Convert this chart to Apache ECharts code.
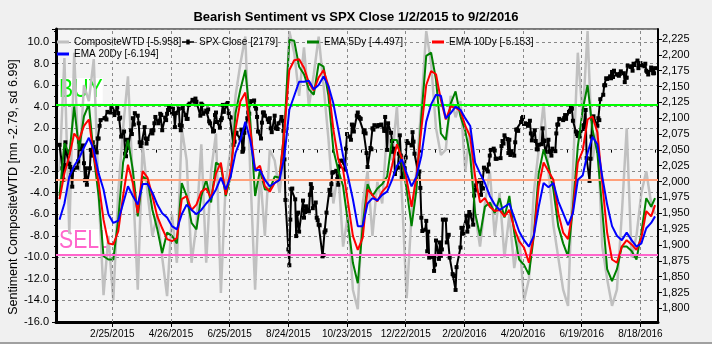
<!DOCTYPE html>
<html><head><meta charset="utf-8">
<script src="https://cdn.jsdelivr.net/npm/echarts@6/dist/echarts.min.js"></script>
<style>html,body{margin:0;padding:0;background:#f0f0f0}#c{width:712px;height:344px}</style>
</head><body><div id="c"></div>
<script>
// ---------- DATA ----------
// SPX daily closes
const spxDates = [
'2015-01-02','2015-01-05','2015-01-06','2015-01-07','2015-01-08','2015-01-09','2015-01-12','2015-01-13','2015-01-14','2015-01-15','2015-01-16','2015-01-20','2015-01-21','2015-01-22','2015-01-23','2015-01-26','2015-01-27','2015-01-28','2015-01-29','2015-01-30',
'2015-02-02','2015-02-03','2015-02-04','2015-02-05','2015-02-06','2015-02-09','2015-02-10','2015-02-11','2015-02-12','2015-02-13','2015-02-17','2015-02-18','2015-02-19','2015-02-20','2015-02-23','2015-02-24','2015-02-25','2015-02-26','2015-02-27',
'2015-03-02','2015-03-03','2015-03-04','2015-03-05','2015-03-06','2015-03-09','2015-03-10','2015-03-11','2015-03-12','2015-03-13','2015-03-16','2015-03-17','2015-03-18','2015-03-19','2015-03-20','2015-03-23','2015-03-24','2015-03-25','2015-03-26','2015-03-27','2015-03-30','2015-03-31',
'2015-04-01','2015-04-02','2015-04-06','2015-04-07','2015-04-08','2015-04-09','2015-04-10','2015-04-13','2015-04-14','2015-04-15','2015-04-16','2015-04-17','2015-04-20','2015-04-21','2015-04-22','2015-04-23','2015-04-24','2015-04-27','2015-04-28','2015-04-29','2015-04-30',
'2015-05-01','2015-05-04','2015-05-05','2015-05-06','2015-05-07','2015-05-08','2015-05-11','2015-05-12','2015-05-13','2015-05-14','2015-05-15','2015-05-18','2015-05-19','2015-05-20','2015-05-21','2015-05-22','2015-05-26','2015-05-27','2015-05-28','2015-05-29',
'2015-06-01','2015-06-02','2015-06-03','2015-06-04','2015-06-05','2015-06-08','2015-06-09','2015-06-10','2015-06-11','2015-06-12','2015-06-15','2015-06-16','2015-06-17','2015-06-18','2015-06-19','2015-06-22','2015-06-23','2015-06-24','2015-06-25','2015-06-26','2015-06-29','2015-06-30',
'2015-07-01','2015-07-02','2015-07-06','2015-07-07','2015-07-08','2015-07-09','2015-07-10','2015-07-13','2015-07-14','2015-07-15','2015-07-16','2015-07-17','2015-07-20','2015-07-21','2015-07-22','2015-07-23','2015-07-24','2015-07-27','2015-07-28','2015-07-29','2015-07-30','2015-07-31',
'2015-08-03','2015-08-04','2015-08-05','2015-08-06','2015-08-07','2015-08-10','2015-08-11','2015-08-12','2015-08-13','2015-08-14','2015-08-17','2015-08-18','2015-08-19','2015-08-20','2015-08-21','2015-08-24','2015-08-25','2015-08-26','2015-08-27','2015-08-28','2015-08-31',
'2015-09-01','2015-09-02','2015-09-03','2015-09-04','2015-09-08','2015-09-09','2015-09-10','2015-09-11','2015-09-14','2015-09-15','2015-09-16','2015-09-17','2015-09-18','2015-09-21','2015-09-22','2015-09-23','2015-09-24','2015-09-25','2015-09-28','2015-09-29','2015-09-30',
'2015-10-01','2015-10-02','2015-10-05','2015-10-06','2015-10-07','2015-10-08','2015-10-09','2015-10-12','2015-10-13','2015-10-14','2015-10-15','2015-10-16','2015-10-19','2015-10-20','2015-10-21','2015-10-22','2015-10-23','2015-10-26','2015-10-27','2015-10-28','2015-10-29','2015-10-30',
'2015-11-02','2015-11-03','2015-11-04','2015-11-05','2015-11-06','2015-11-09','2015-11-10','2015-11-11','2015-11-12','2015-11-13','2015-11-16','2015-11-17','2015-11-18','2015-11-19','2015-11-20','2015-11-23','2015-11-24','2015-11-25','2015-11-27','2015-11-30',
'2015-12-01','2015-12-02','2015-12-03','2015-12-04','2015-12-07','2015-12-08','2015-12-09','2015-12-10','2015-12-11','2015-12-14','2015-12-15','2015-12-16','2015-12-17','2015-12-18','2015-12-21','2015-12-22','2015-12-23','2015-12-24','2015-12-28','2015-12-29','2015-12-30','2015-12-31',
'2016-01-04','2016-01-05','2016-01-06','2016-01-07','2016-01-08','2016-01-11','2016-01-12','2016-01-13','2016-01-14','2016-01-15','2016-01-19','2016-01-20','2016-01-21','2016-01-22','2016-01-25','2016-01-26','2016-01-27','2016-01-28','2016-01-29',
'2016-02-01','2016-02-02','2016-02-03','2016-02-04','2016-02-05','2016-02-08','2016-02-09','2016-02-10','2016-02-11','2016-02-12','2016-02-16','2016-02-17','2016-02-18','2016-02-19','2016-02-22','2016-02-23','2016-02-24','2016-02-25','2016-02-26','2016-02-29',
'2016-03-01','2016-03-02','2016-03-03','2016-03-04','2016-03-07','2016-03-08','2016-03-09','2016-03-10','2016-03-11','2016-03-14','2016-03-15','2016-03-16','2016-03-17','2016-03-18','2016-03-21','2016-03-22','2016-03-23','2016-03-24','2016-03-28','2016-03-29','2016-03-30','2016-03-31',
'2016-04-01','2016-04-04','2016-04-05','2016-04-06','2016-04-07','2016-04-08','2016-04-11','2016-04-12','2016-04-13','2016-04-14','2016-04-15','2016-04-18','2016-04-19','2016-04-20','2016-04-21','2016-04-22','2016-04-25','2016-04-26','2016-04-27','2016-04-28','2016-04-29',
'2016-05-02','2016-05-03','2016-05-04','2016-05-05','2016-05-06','2016-05-09','2016-05-10','2016-05-11','2016-05-12','2016-05-13','2016-05-16','2016-05-17','2016-05-18','2016-05-19','2016-05-20','2016-05-23','2016-05-24','2016-05-25','2016-05-26','2016-05-27','2016-05-31',
'2016-06-01','2016-06-02','2016-06-03','2016-06-06','2016-06-07','2016-06-08','2016-06-09','2016-06-10','2016-06-13','2016-06-14','2016-06-15','2016-06-16','2016-06-17','2016-06-20','2016-06-21','2016-06-22','2016-06-23','2016-06-24','2016-06-27','2016-06-28','2016-06-29','2016-06-30',
'2016-07-01','2016-07-05','2016-07-06','2016-07-07','2016-07-08','2016-07-11','2016-07-12','2016-07-13','2016-07-14','2016-07-15','2016-07-18','2016-07-19','2016-07-20','2016-07-21','2016-07-22','2016-07-25','2016-07-26','2016-07-27','2016-07-28','2016-07-29',
'2016-08-01','2016-08-02','2016-08-03','2016-08-04','2016-08-05','2016-08-08','2016-08-09','2016-08-10','2016-08-11','2016-08-12','2016-08-15','2016-08-16','2016-08-17','2016-08-18','2016-08-19','2016-08-22','2016-08-23','2016-08-24','2016-08-25','2016-08-26','2016-08-29','2016-08-30','2016-08-31',
'2016-09-01','2016-09-02'
];
const spxClose = [
2058,2021,2003,2026,2062,2045,2028,2023,2011,1992,2019,2022,2032,2063,2051,2057,2029,2002,2021,1995,
2021,2050,2041,2062,2055,2046,2068,2068,2088,2097,2100,2100,2098,2110,2109,2116,2114,2111,2105,
2117,2108,2099,2101,2071,2079,2044,2040,2066,2053,2081,2075,2100,2090,2108,2104,2092,2062,2056,2061,2086,2068,
2060,2067,2081,2076,2081,2092,2102,2092,2096,2107,2105,2081,2101,2097,2107,2113,2117,2109,2115,2107,2086,
2108,2115,2089,2081,2088,2116,2105,2099,2099,2121,2123,2129,2128,2126,2131,2126,2104,2123,2121,2107,
2112,2110,2114,2095,2092,2079,2080,2105,2109,2094,2085,2097,2100,2121,2110,2122,2124,2108,2102,2101,2058,2063,
2077,2077,2068,2082,2047,2052,2077,2100,2109,2107,2124,2127,2128,2119,2115,2102,2079,2068,2093,2109,2109,2104,
2098,2094,2100,2084,2078,2104,2084,2086,2083,2092,2102,2096,2080,2035,1971,1893,1868,1940,1988,1989,1972,
1914,1949,1951,1921,1970,1943,1952,1961,1953,1979,1996,1990,1958,1967,1943,1939,1932,1931,1882,1884,1920,
1923,1951,1987,1979,1996,2014,2015,2017,2004,1995,2024,2033,2033,2030,2019,2052,2075,2071,2066,2090,2089,2079,
2104,2109,2102,2100,2099,2078,2081,2076,2045,2023,2053,2051,2084,2082,2089,2087,2089,2089,2090,2080,
2102,2080,2050,2092,2077,2064,2047,2052,2012,2022,2044,2073,2041,2006,2021,2038,2064,2061,2057,2078,2063,2044,
2012,2016,1990,1943,1922,1924,1938,1890,1921,1880,1881,1859,1869,1907,1878,1904,1883,1893,1940,
1940,1904,1913,1916,1880,1854,1852,1851,1829,1865,1896,1927,1918,1918,1946,1921,1929,1952,1948,1932,
1978,1987,1994,2000,2002,1979,1990,1989,2022,2019,2016,2027,2041,2050,2052,2049,2036,2036,2037,2056,2064,2060,
2073,2067,2045,2066,2042,2048,2041,2062,2082,2082,2080,2094,2100,2102,2091,2092,2088,2091,2096,2076,2065,
2081,2064,2051,2051,2058,2059,2084,2065,2064,2047,2066,2047,2048,2041,2052,2048,2076,2090,2090,2099,2097,
2100,2105,2099,2110,2112,2119,2115,2096,2079,2075,2072,2077,2071,2083,2089,2086,2113,2037,2001,2036,2071,2099,
2103,2088,2100,2097,2130,2137,2152,2152,2163,2162,2166,2163,2173,2165,2175,2169,2169,2167,2170,2174,
2171,2157,2164,2164,2183,2181,2182,2175,2186,2184,2191,2179,2182,2187,2184,2182,2186,2175,2173,2169,2180,2176,2171,
2171,2179
];
// Sentiment samples: days since 2015-01-02
const sentDays = [
0,5,10,15,20,25,30,35,40,45,50,55,60,65,70,75,80,85,90,95,
100,105,110,115,120,125,130,135,140,145,150,155,160,165,170,175,180,185,190,195,
200,205,210,215,220,225,230,235,240,245,250,255,260,265,270,275,280,285,290,295,
300,305,310,315,320,325,330,335,340,345,350,355,360,365,370,375,380,385,390,395,
400,405,410,415,420,425,430,435,440,445,450,455,460,465,470,475,480,485,490,495,
500,505,510,515,520,525,530,535,540,545,550,555,560,565,570,575,580,585,590,595,
600,605,609
];
const composite = [
-2,8.5,-7.8,9.0,-2,6,4.5,8.4,-4,-13.5,
-8,-14,-4,2,6.8,-3,-13,0.5,-4,-8,
-6,-10,-13.6,-6,-10.5,2,-1,-10.5,-7,0.5,
-10.5,-2,1.5,-13.3,-3,0,5,8,10.5,-2,
-13,-2,-8,0,-1,-4,0,11,9,5,
9.5,4,7,10.5,6,1,-5,-2,-9,-6,
-13,-14.8,-5,-2,-8,-3,-5,2,-1,4,
-4,-13.8,-6,-2,4,11,8,2,-0.5,0,
5,3,4.5,-2,2,-6,-9,-5,-2,-8,
-4,-10,-6,-11,-8,-14,-12,-4,0,4.3,
-2,-7,-10,-13,-14.5,-2,9,3,11,-1,
2,-9,-12,-14.5,-13,-6,2,-10,-8,-4,
-2,-5,-5.958
];
const ema5 = [
-4.3,0.6,-0.5,4.0,0.0,3.1,4.2,-0.6,-4.3,-9.9,
-10.2,-10.2,-6.5,-1.2,0.9,-1.9,-6.2,-2.5,-2.8,-5.6,
-7.4,-9.6,-7.7,-8.0,-8.7,-3.1,-4.3,-6.8,-7.4,-4.3,
-2.8,-4.9,-1.2,-1.5,-4.3,-2.5,3.4,5.6,7.4,2.8,
-4.3,-1.9,-3.7,-3.7,-2.5,-2.6,1.9,10.2,10.1,7.7,
7.0,5.6,5.1,8.0,7.7,5.0,0.0,-1.9,-3.4,-6.8,
-10.5,-12.4,-7.1,-3.2,-4.3,-3.6,-3.2,-2.5,0.9,0.9,
-1.1,-3.7,-7.1,-3.7,3.1,8.7,9.0,6.5,1.5,0.9,
4.3,5.4,3.1,1.7,-0.6,-5.9,-8.0,-5.3,-4.9,-5.9,
-4.5,-6.3,-4.3,-7.7,-10.2,-10.7,-11.6,-8.0,-2.2,0.0,
-1.5,-3.7,-7.1,-8.7,-9.9,-5.3,0.3,3.7,6.0,1.9,
-0.3,-5.6,-11.1,-12.2,-11.1,-9.0,-9.0,-9.4,-10.2,-7.7,
-4.5,-5.3,-4.497
];
const ema10 = [
-4.6,-2.2,-0.6,1.5,0.9,2.2,2.8,-0.6,-3.1,-6.5,
-8.7,-8.8,-7.6,-4.3,-1.4,-3.1,-5.9,-2.0,-2.6,-4.3,
-6.2,-7.3,-8.3,-8.5,-8.2,-4.6,-4.3,-5.6,-5.1,-3.9,
-3.6,-4.5,-2.2,-1.2,-4.2,-1.9,1.9,4.5,5.3,1.9,
-1.9,-1.5,-3.4,-3.9,-3.1,-2.8,1.9,7.4,8.3,8.4,
7.6,6.2,5.5,6.7,7.4,5.9,1.9,-0.9,-1.9,-4.9,
-8.0,-9.3,-8.2,-3.7,-4.2,-4.8,-3.9,-3.4,-1.5,0.5,
-0.8,-2.8,-5.3,-2.5,1.9,6.0,7.3,7.0,4.6,2.8,
4.0,3.9,3.6,2.2,1.2,-2.5,-4.9,-4.5,-5.3,-5.7,
-5.6,-6.2,-5.6,-7.3,-8.5,-9.1,-10.5,-8.0,-3.4,-1.2,
-2.0,-2.8,-5.9,-7.7,-8.3,-5.6,-1.2,-0.1,2.8,3.1,
1.6,-3.1,-7.7,-10.2,-10.5,-9.0,-8.4,-8.8,-9.3,-8.2,
-5.7,-6.2,-5.153
];
const ema20 = [
-6.5,-5.0,-2.5,-1.5,-0.8,0.2,1.1,0.0,-2.2,-3.7,
-6.0,-6.8,-6.6,-5.0,-3.4,-4.3,-5.1,-3.2,-3.2,-4.0,
-5.1,-5.9,-6.3,-7.1,-7.4,-6.0,-5.1,-5.6,-6.0,-5.6,
-5.0,-4.5,-3.7,-2.6,-3.7,-2.5,-0.3,0.9,2.6,0.9,
-1.9,-1.9,-2.8,-3.4,-3.1,-2.8,-0.6,3.7,5.0,6.3,
6.3,6.4,5.6,6.0,6.8,5.9,4.3,1.9,-0.6,-2.5,
-4.6,-7.1,-7.1,-5.0,-4.5,-4.7,-4.2,-3.9,-2.8,-1.5,
-0.9,-2.2,-3.4,-2.5,-0.6,2.6,4.2,5.1,5.0,2.9,
3.4,4.0,3.7,2.9,2.2,-1.2,-2.2,-3.1,-4.3,-5.1,
-5.6,-5.3,-5.0,-6.3,-7.6,-8.4,-9.0,-8.0,-5.3,-3.1,
-3.5,-3.1,-4.8,-5.9,-7.0,-5.9,-2.8,-2.4,-0.3,1.2,
0.5,-2.5,-5.1,-7.1,-8.0,-8.4,-7.7,-8.4,-9.0,-8.7,
-7.3,-6.8,-6.194
];
const xTickDates = ['2015-02-25','2015-04-26','2015-06-25','2015-08-24','2015-10-23','2015-12-22','2016-02-20','2016-04-20','2016-06-19','2016-08-18'];
const rightTicks = [1800,1825,1850,1875,1900,1925,1950,1975,2000,2025,2050,2075,2100,2125,2150,2175,2200,2225];
const buyLevel = 4.2, meanLevel = -2.79, sellLevel = -9.78;
const seriesNames = ['CompositeWTD [-5.958]','SPX Close [2179]','EMA 5Dy [-4.497]','EMA 10Dy [-5.153]','EMA 20Dy [-6.194]'];

// ---------- helpers ----------
const BASE = Date.UTC(2015,0,2), DAY = 864e5;
function dayOf(s){const p=s.split('-');return (Date.UTC(+p[0],+p[1]-1,+p[2])-BASE)/DAY;}
function dateLabel(d){const t=new Date(BASE+Math.round(d)*DAY);return (t.getUTCMonth()+1)+'/'+t.getUTCDate()+'/'+t.getUTCFullYear();}
const xTicks = xTickDates.map(dayOf);
const X_MIN=-3.6, X_MAX=612;
const minorTicks=[]; for(let d=xTicks[0]-45; d<=X_MAX; d+=15){ if(d>X_MIN && xTicks.indexOf(d)<0) minorTicks.push(d); }
const pair = arr => sentDays.map((d,i)=>[d,arr[i]]);
const FONT = '"Liberation Sans", Arial, sans-serif';

const chart = echarts.init(document.getElementById('c'), null, {renderer:'canvas'});
const legendBase = {orient:'horizontal', padding:0, itemWidth:12, itemHeight:3, itemGap:0,
  textStyle:{fontSize:10, color:'#000', fontFamily:FONT}, selectedMode:false, icon:'rect'};
const option = {
  animation:false,
  backgroundColor:'#f0f0f0',
  textStyle:{fontFamily:FONT},
  title:{text:'Bearish Sentiment vs SPX Close 1/2/2015 to 9/2/2016', left:'center', top:6,
    textStyle:{fontSize:13, fontWeight:'bold', color:'#000', fontFamily:FONT}},
  grid:{left:56, right:54, top:29, bottom:22, show:true, backgroundColor:'#f4f4f4', borderColor:'#000', borderWidth:1, containLabel:false},
  legend:[
    Object.assign({}, legendBase, {left:57, top:37, data:[seriesNames[0]]}),
    Object.assign({}, legendBase, {left:182, top:37, data:[{name:seriesNames[1], icon:'path://M0,3h14v2H0z M5,1h4v6H5z'}], itemHeight:6}),
    Object.assign({}, legendBase, {left:307, top:37, data:[seriesNames[2]]}),
    Object.assign({}, legendBase, {left:432, top:37, data:[seriesNames[3]]}),
    Object.assign({}, legendBase, {left:57, top:49, data:[seriesNames[4]]})
  ],
  xAxis:[{
    type:'value', min:X_MIN, max:X_MAX,
    axisLine:{show:true, onZero:false, lineStyle:{color:'#000', width:3}},
    axisTick:{show:true, customValues:xTicks, length:5, lineStyle:{color:'#000'}},
    axisLabel:{customValues:xTicks, formatter:v=>dateLabel(v), fontSize:10, color:'#000', margin:7},
    splitLine:{show:false}
  },{
    type:'value', min:X_MIN, max:X_MAX, position:'bottom',
    axisLine:{show:false}, axisLabel:{show:false}, splitLine:{show:false},
    axisTick:{show:true, customValues:minorTicks, length:3, lineStyle:{color:'#000'}}
  }],
  yAxis:[{
    type:'value', min:-16, max:11.2, interval:2, position:'left',
    axisLine:{show:true, onZero:false, lineStyle:{color:'#000', width:3}},
    axisTick:{show:true, length:4, lineStyle:{color:'#000'}},
    minorTick:{show:true, splitNumber:2, length:2, lineStyle:{color:'#000'}},
    axisLabel:{fontSize:11, color:'#000', margin:7, showMaxLabel:false, formatter:v=>v.toFixed(1)},
    splitLine:{show:true, lineStyle:{color:'#888', type:[3,3], width:1}}
  },{
    type:'value', min:1778.4, max:2240.8, position:'right',
    axisLine:{show:true, onZero:false, lineStyle:{color:'#000', width:2}},
    axisTick:{show:true, customValues:rightTicks, length:4, lineStyle:{color:'#000'}},
    axisLabel:{customValues:rightTicks, fontSize:11, color:'#000', margin:4, formatter:v=>v.toLocaleString('en-US')},
    splitLine:{show:false}
  }],
  graphic:[
    {type:'text', z:1, left:59, top:78, style:{text:'BUY', fontSize:25, fill:'#00ee00', fontFamily:FONT, backgroundColor:'#ffffff'}, scaleX:0.85},
    {type:'text', z:1, left:59, top:229, style:{text:'SELL', fontSize:25, fill:'#ff66cc', fontFamily:FONT, backgroundColor:'#ffffff'}, scaleX:0.85},
    {type:'text', z:1, x:14, y:187, rotation:Math.PI/2, style:{text:'Sentiment CompositeWTD [mn -2.79, sd 6.99]', fontSize:12.5, fill:'#000', fontFamily:FONT, textAlign:'center', textVerticalAlign:'middle'}},
    {type:'rect', z:1, shape:{x:0, y:342, width:712, height:2}, style:{fill:'#a0a0a0'}}
  ],
  series:[
    {name:'grid-v', type:'line', data:[], silent:true, z:1,
      markLine:{silent:true, symbol:['none','none'], label:{show:false},
        lineStyle:{color:'#888', type:[3,3], width:1},
        data:xTicks.map(d=>({xAxis:d}))}},
    {name:seriesNames[0], type:'line', data:pair(composite), symbol:'none', z:2,
      lineStyle:{color:'#c0c0c0', width:2.5}, itemStyle:{color:'#c0c0c0'},
      markLine:{silent:true, symbol:['none','none'], label:{show:false},
        data:[
          {yAxis:buyLevel, lineStyle:{color:'#00ff00', width:2, type:'solid'}},
          {yAxis:meanLevel, lineStyle:{color:'#ffa07a', width:2, type:'solid'}},
          {yAxis:sellLevel, lineStyle:{color:'#ff66cc', width:2, type:'solid'}}
        ]}},
    {name:seriesNames[1], type:'line', yAxisIndex:1, data:spxDates.map((s,i)=>[dayOf(s), spxClose[i]]),
      symbol:'rect', symbolSize:4, showSymbol:true, showAllSymbol:true, z:3,
      lineStyle:{color:'#000', width:2}, itemStyle:{color:'#000'}},
    {name:seriesNames[2], type:'line', data:pair(ema5), symbol:'none', z:4, lineStyle:{color:'#008000', width:2}, itemStyle:{color:'#008000'}},
    {name:seriesNames[3], type:'line', data:pair(ema10), symbol:'none', z:5, lineStyle:{color:'#ff0000', width:2}, itemStyle:{color:'#ff0000'}},
    {name:seriesNames[4], type:'line', data:pair(ema20), symbol:'none', z:6, lineStyle:{color:'#0000ff', width:2}, itemStyle:{color:'#0000ff'}}
  ]
};
chart.setOption(option);
</script></body></html>
